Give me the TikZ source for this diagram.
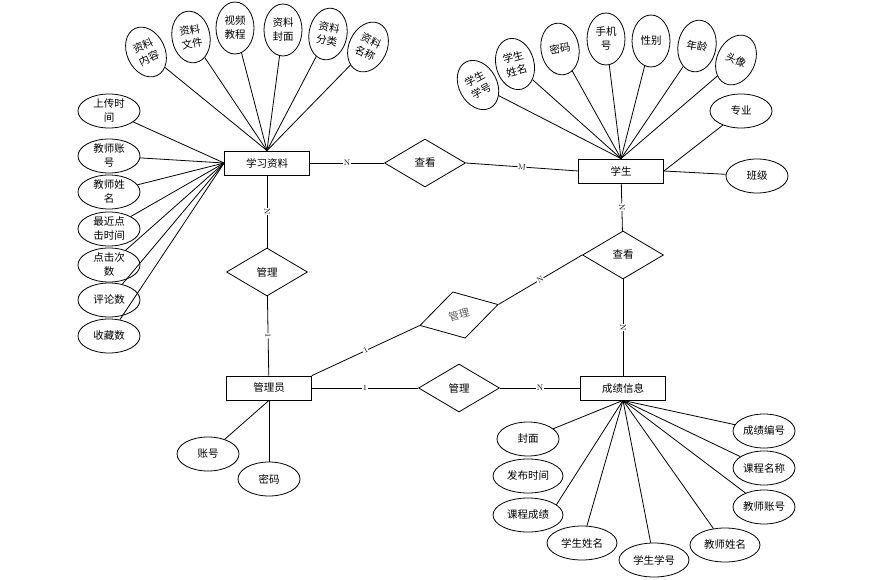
\documentclass[tikz,border=0pt]{standalone}
\usepackage{fontspec}
\newfontfamily\cjk{Noto Sans CJK SC}
\usetikzlibrary{shapes.geometric}

\begin{document}
\begin{tikzpicture}[x=1pt, y=-1pt, line width=0.8pt,
    entity/.style={draw, minimum width=85pt, minimum height=24pt, inner sep=0pt, font=\cjk\fontsize{10.5}{12}\selectfont},
    rel/.style={draw, diamond, minimum width=81pt, minimum height=48pt, inner sep=0pt, font=\cjk\fontsize{10.5}{12}\selectfont},
    attr/.style={draw, ellipse, minimum width=62pt, minimum height=34pt, inner sep=0pt, align=center, font=\cjk\fontsize{10.5}{14}\selectfont},
    wide/.style={attr, minimum width=70pt},
    tall/.style={attr, minimum width=38pt, minimum height=52pt},
    card/.style={midway, sloped, fill=white, inner sep=0.5pt, font=\fontsize{8}{8}\selectfont}]
    \useasboundingbox (0,0) rectangle (894,580);

    \node[entity] (zl) at (267,163) {学习资料};
    \node[entity] (xs) at (621,171) {学生};
    \node[entity] (gly) at (269,388) {管理员};
    \node[entity] (cj) at (623,388) {成绩信息};

    \node[rel] (ck1) at (425,163) {查看};
    \node[rel] (ck2) at (623,255) {查看};
    \node[rel] (gl1) at (267,272) {管理};
    \node[rel] (gl2) at (459,388) {管理};
    \node[rel, rotate=15, text=black!65] (gl3) at (459,315) {管理};

    \node[tall, rotate=25] (a1) at (146,52) {资料\\内容};
    \node[tall, rotate=10] (a2) at (191,37) {资料\\文件};
    \node[tall] (a3) at (235,28) {视频\\教程};
    \node[tall] (a4) at (283,30) {资料\\封面};
    \node[tall, rotate=-10] (a5) at (328,34) {资料\\分类};
    \node[tall, rotate=-25] (a6) at (368,47) {资料\\名称};

    \node[attr] (b1) at (109,111) {上传时\\间};
    \node[attr] (b2) at (109,156) {教师账\\号};
    \node[attr] (b3) at (109,192) {教师姓\\名};
    \node[attr] (b4) at (109,229) {最近点\\击时间};
    \node[attr] (b5) at (109,265) {点击次\\数};
    \node[attr] (b6) at (109,300) {评论数};
    \node[attr] (b7) at (109,336) {收藏数};

    \node[tall, rotate=28] (c1) at (478,85) {学生\\学号};
    \node[tall, rotate=15] (c2) at (515,64) {学生\\姓名};
    \node[tall, rotate=10] (c3) at (560,49) {密码};
    \node[tall] (c4) at (606,39) {手机\\号};
    \node[tall] (c5) at (651,41) {性别};
    \node[tall, rotate=-10] (c6) at (697,46) {年龄};
    \node[tall, rotate=-25] (c7) at (736,60) {头像};
    \node[attr] (c8) at (741,111) {专业};
    \node[attr] (c9) at (757,176) {班级};

    \node[attr] (d1) at (528,439) {封面};
    \node[wide] (d2) at (528,476) {发布时间};
    \node[wide] (d3) at (528,515) {课程成绩};
    \node[wide] (d4) at (582,543) {学生姓名};
    \node[wide] (d5) at (654,560) {学生学号};
    \node[wide] (d6) at (725,545) {教师姓名};
    \node[attr] (d7) at (764,507) {教师账号};
    \node[attr] (d8) at (764,468) {课程名称};
    \node[attr] (d9) at (764,431) {成绩编号};

    \node[attr] (e1) at (208,454) {账号};
    \node[attr] (e2) at (269,479) {密码};

    \foreach \n in {a1,a2,a3,a4,a5,a6} \draw (zl.north) -- (\n);
    \foreach \n in {b1,b2,b3,b4,b5,b6,b7} \draw (zl.west) -- (\n);
    \foreach \n in {c1,c2,c3,c4,c5,c6,c7} \draw (xs.north) -- (\n);
    \draw (xs.east) -- (c8);
    \draw (xs.east) -- (c9);
    \draw (cj.south) -- (d3.20);
    \foreach \n in {d1,d4,d5,d6,d7,d8,d9} \draw (cj.south) -- (\n);
    \draw (gly.south) -- (e1);
    \draw (gly.south) -- (e2);

    \draw (zl.east) -- node[card] {N} (ck1.west);
    \draw (ck1.east) -- node[card] {M} (xs.west);
    \draw (xs) -- node[card] {N} (ck2);
    \draw (ck2) -- node[card] {N} (cj);
    \draw (zl) -- node[card] {N} (gl1);
    \draw (gl1) -- node[card] {1} (gly);
    \draw (gly.east) -- node[card] {1} (gl2.west);
    \draw (gl2.east) -- node[card] {N} (cj.west);
    \draw (gly.north east) -- node[card] {1} (gl3.west);
    \draw (gl3.east) -- node[card] {N} (ck2.west);
\end{tikzpicture}
\end{document}
